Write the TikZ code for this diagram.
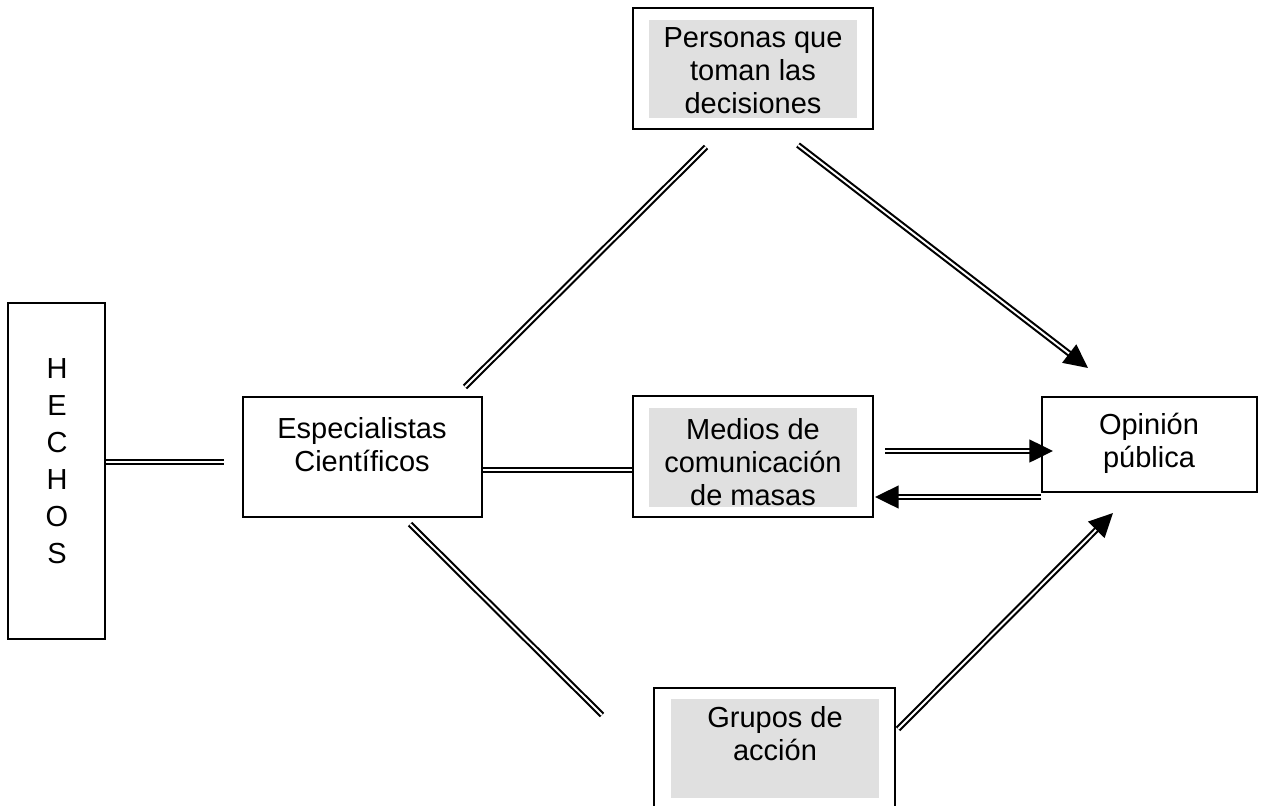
\documentclass[tikz,border=0pt]{standalone}
\usepackage{fontspec}
\setmainfont{Liberation Sans}
\usetikzlibrary{fit,arrows.meta}
\definecolor{boxgray}{gray}{0.88}
\newcommand{\boxfont}{\fontsize{16.5}{18.7}\selectfont}

\begin{document}
\begin{tikzpicture}[x=0.02cm,y=-0.02cm,every node/.style={font=\boxfont},
  box/.style={draw,line width=1pt,inner sep=0pt},
  shaded/.style={fill=boxgray,inner sep=0pt},
  txt/.style={align=center,inner sep=0pt},
  dbl/.style={double,double distance=1.1pt,line width=1.2pt},
  dblarrow/.style={dbl,-{Triangle[length=13.5pt,width=13pt]}}]
 \clip (0,0) rectangle (1263,805);
 % boxes
 \node [box,fit={(8,303) (105,639)}] (hechos) {};
 \node [txt,font=\fontsize{16.5}{21}\selectfont] (hechos-t) at (57,461) {H\\E\\C\\H\\O\\S};
 \node [box,fit={(243,397) (482,517)}] (esp) {};
 \node [txt] (esp-t) at (362,445) {Especialistas\\Científicos};
 \node [box,fit={(633,8) (873,129)}] (pers) {};
 \node [shaded,fit={(649,20) (857,118)}] (pers-g) {};
 \node [txt] (pers-t) at (753,71) {Personas que\\toman las\\decisiones};
 \node [box,fit={(633,396) (873,517)}] (medios) {};
 \node [shaded,fit={(649,408) (857,507)}] (medios-g) {};
 \node [txt] (medios-t) at (753,462) {Medios de\\comunicación\\de masas};
 \node [box,fit={(1042,397) (1257,492)}] (opinion) {};
 \node [txt] (opinion-t) at (1149,443) {Opinión\\pública};
 \node [box,fit={(654,688) (895,840)}] (grupos) {};
 \node [shaded,fit={(671,699) (879,798)}] (grupos-g) {};
 \node [txt] (grupos-t) at (775,734) {Grupos de\\acción};
 % free ends of the connectors
 \coordinate (hechos-end) at (224,462);
 \coordinate (esp-med) at (0,470);
 \coordinate (ep-a) at (465,387);
 \coordinate (ep-b) at (706,147);
 \coordinate (po-a) at (798,145);
 \coordinate (po-b) at (1088,368);
 \coordinate (eg-a) at (410,524);
 \coordinate (eg-b) at (602,715);
 \coordinate (go-a) at (898,729);
 \coordinate (go-b) at (1113,513);
 \coordinate (mo-a) at (885,451);
 \coordinate (mo-b) at (1053,451);
 \coordinate (om-y) at (0,497);
 \coordinate (om-b) at (875,497);
 % connectors
 \draw [dbl] (hechos.east |- hechos-end) -- (hechos-end);
 \draw [dbl] (esp.east |- esp-med) -- (medios.west |- esp-med);
 \draw [dbl] (ep-a) -- (ep-b);
 \draw [dblarrow] (po-a) -- (po-b);
 \draw [dbl] (eg-a) -- (eg-b);
 \draw [dblarrow] (go-a) -- (go-b);
 \draw [dblarrow] (mo-a) -- (mo-b);
 \draw [dblarrow] (opinion.west |- om-y) -- (om-b);
\end{tikzpicture}
\end{document}
